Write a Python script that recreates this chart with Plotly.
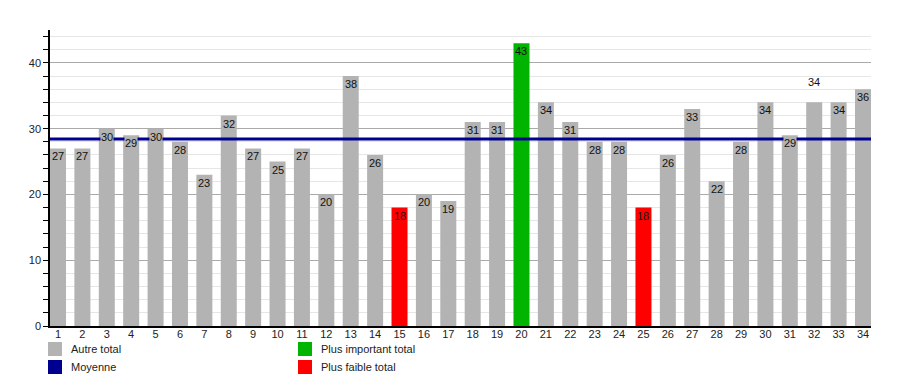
import plotly.graph_objects as go

categories = list(range(1, 35))
values = [27, 27, 30, 29, 30, 28, 23, 32, 27, 25, 27, 20, 38, 26, 18, 20, 19,
          31, 31, 43, 34, 31, 28, 28, 18, 26, 33, 22, 28, 34, 29, 34, 34, 36]
labels_above_bar = [32]

legend_names = ["Autre total", "Moyenne", "Plus important total", "Plus faible total"]

GRAY = "#b3b3b3"
GREEN = "#00b400"
RED = "#ff0000"
NAVY = "#000090"

vmax = max(values)
vmin = min(values)
colors = [GREEN if v == vmax else (RED if v == vmin else GRAY) for v in values]
mean_val = sum(values) / len(values)

OFF = 8  # page body margin
W, H = 900 - OFF, 375 - OFF
ML, MT = 50 - OFF, 30 - OFF
MR = W + OFF - 871
MB = H + OFF - 326
PW, PH = W - ML - MR, H - MT - MB

fig = go.Figure()
fig.add_trace(go.Bar(x=categories, y=values, marker=dict(color=colors, line=dict(width=0)),
                     hoverinfo="x+y", showlegend=False))

# mean line
fig.add_shape(type="line", xref="paper", x0=0, x1=1, yref="y", y0=mean_val, y1=mean_val,
              line=dict(color=NAVY, width=3), layer="above")

FONT = "Liberation Sans, Arial"
# value labels
for c, v, col in zip(categories, values, colors):
    if c in labels_above_bar:
        fig.add_annotation(x=c, y=v, yanchor="bottom", yshift=12, text=str(v), showarrow=False,
                           font=dict(family=FONT, size=11, color="#111"))
    else:
        fig.add_annotation(x=c, y=v, yanchor="top", yshift=-1, text=str(v), showarrow=False,
                           bgcolor=col, borderpad=0,
                           font=dict(family=FONT, size=11, color="#111"))

# custom legend (positions in screen pixels)
def px_to_paper_x(px):
    return (px - OFF - ML) / PW

def px_to_paper_y(py):
    return (H - MB - (py - OFF)) / PH

legend_items = [
    (legend_names[0], GRAY, 48, 342),
    (legend_names[1], NAVY, 48, 360),
    (legend_names[2], GREEN, 298, 342),
    (legend_names[3], RED, 298, 360),
]
for name, col, lx, ly in legend_items:
    fig.add_shape(type="rect", xref="paper", yref="paper",
                  x0=px_to_paper_x(lx), x1=px_to_paper_x(lx + 14),
                  y0=px_to_paper_y(ly + 14), y1=px_to_paper_y(ly),
                  fillcolor=col, line=dict(width=0))
    fig.add_annotation(xref="paper", yref="paper", x=px_to_paper_x(lx + 21),
                       y=px_to_paper_y(ly + 7), xanchor="left", yanchor="middle",
                       text=name, showarrow=False,
                       font=dict(family=FONT, size=11, color="#222"))

fig.update_layout(
    width=W, height=H,
    margin=dict(l=ML, r=MR, t=MT, b=MB, pad=0),
    paper_bgcolor="white", plot_bgcolor="white",
    bargap=0.344,
    showlegend=False,
    font=dict(family=FONT, size=11, color="#222"),
    xaxis=dict(range=[0.672, 34.328], tickvals=categories, ticktext=[str(c) for c in categories],
               showgrid=False, zeroline=False, showline=True, linecolor="black", linewidth=1.5,
               ticks="", ticklabelstandoff=-3, tickfont=dict(size=11, color="#222"), fixedrange=True),
    yaxis=dict(range=[0, 45], dtick=10, tick0=0, showgrid=True, gridcolor="#aaaaaa", gridwidth=1,
               zeroline=False, showline=True, linecolor="black", linewidth=1.5,
               ticks="outside", ticklen=5, tickcolor="black",
               minor=dict(dtick=2, tick0=0, ticks="outside", ticklen=5, tickcolor="black",
                          showgrid=True, gridcolor="#e6e6e6"),
               tickfont=dict(size=11, color="#222"), fixedrange=True),
)

fig.write_html("out.html")
